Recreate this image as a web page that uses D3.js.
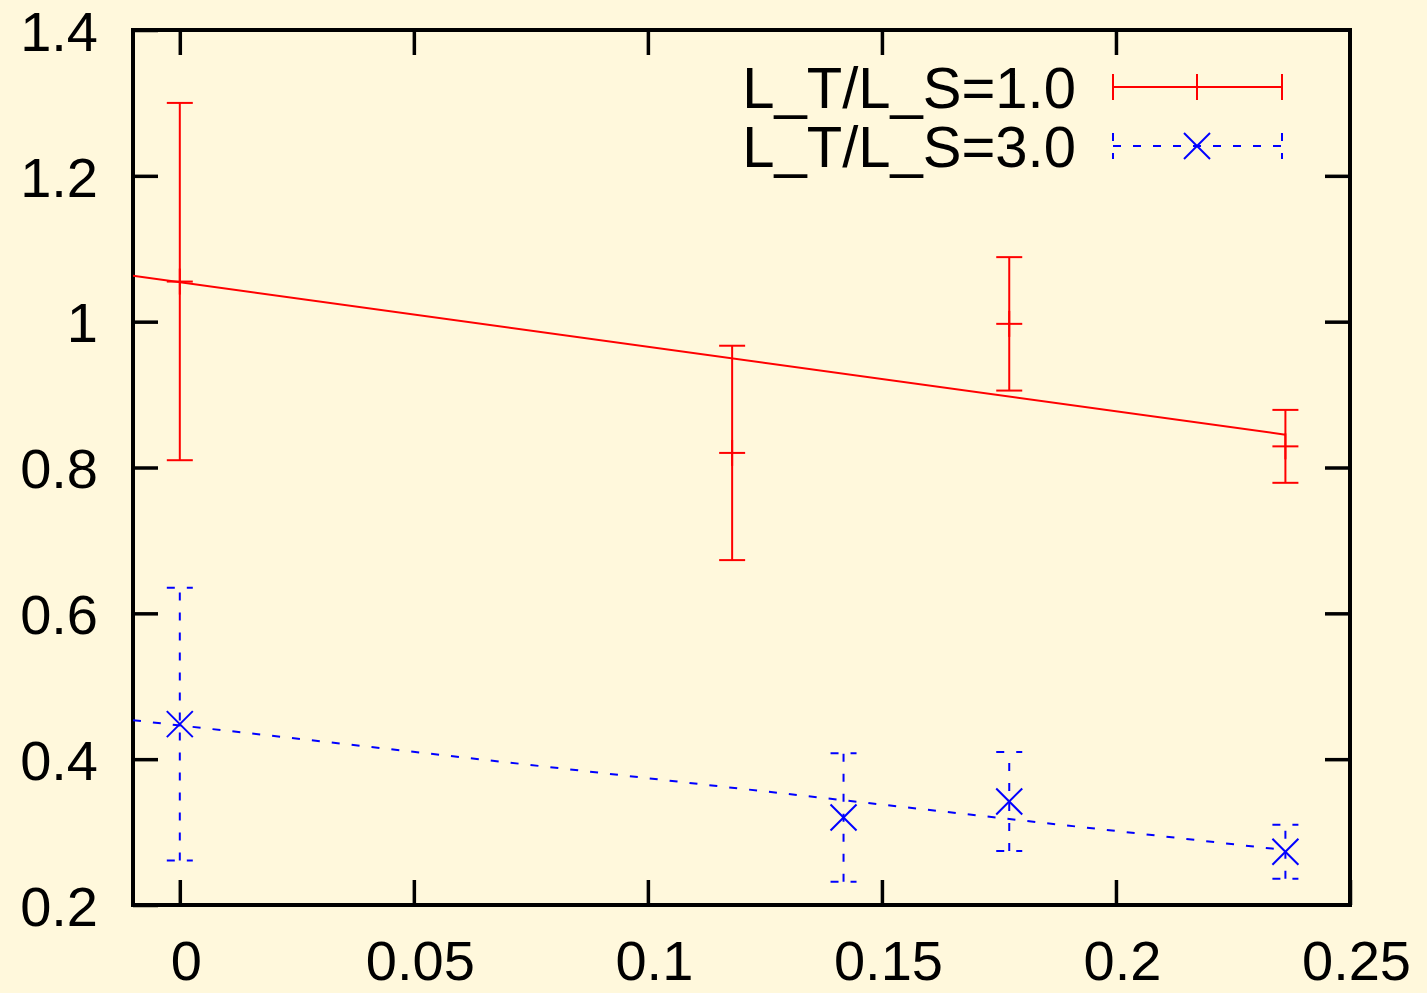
<!DOCTYPE html>
<html>
<head>
<meta charset="utf-8">
<script src="https://cdn.jsdelivr.net/npm/d3@7"></script>
<style>
  html, body { margin: 0; padding: 0; background: #fff8dc; }
  svg { display: block; }
  text { font-family: "Liberation Sans", Arial, Helvetica, sans-serif; }
</style>
</head>
<body>
<script>
// ---- data ----
const xTicks = [0, 0.05, 0.1, 0.15, 0.2, 0.25];
const xTickLabels = ["0", "0.05", "0.1", "0.15", "0.2", "0.25"];
const yTicks = [0.2, 0.4, 0.6, 0.8, 1.0, 1.2, 1.4];
const yTickLabels = ["0.2", "0.4", "0.6", "0.8", "1", "1.2", "1.4"];

const series1Name = "L_T/L_S=1.0";
const series1X = [0, 0.118, 0.1772, 0.2362];
const series1Y = [1.055, 0.820, 0.997, 0.829];
const series1Err = [0.245, 0.147, 0.0915, 0.050];
const fit1X = [-0.01, 0.2362];
const fit1Y = [1.063, 0.845];

const series2Name = "L_T/L_S=3.0";
const series2X = [0, 0.1418, 0.1772, 0.2362];
const series2Y = [0.448, 0.320, 0.342, 0.273];
const series2Err = [0.187, 0.088, 0.068, 0.037];
const fit2X = [-0.01, 0.2362];
const fit2Y = [0.4535, 0.2753];

(function () {
// ---- layout ----
const W = 1427, H = 993;
const pL = 133, pR = 1350, pT = 30, pB = 905;
const fontSize = 56, legendFontSize = 58;
const capHalf = 13, markHalf = 13;
const red = "#ff0000", blue = "#0000ff";
const dash = "8,12";

const x = d3.scaleLinear().domain([-0.01, 0.25]).range([pL, pR]);
const y = d3.scaleLinear().domain([0.2, 1.4]).range([pB, pT]);

const svg = d3.select("body").append("svg").attr("width", W).attr("height", H);
svg.append("rect").attr("width", W).attr("height", H).attr("fill", "#fff8dc");

svg.append("clipPath").attr("id", "clip").append("rect")
  .attr("x", pL).attr("y", pT).attr("width", pR - pL).attr("height", pB - pT);

// axes (ticks inward, on all four sides)
const tickLen = 25;
function styleAxis(g) {
  g.select(".domain").remove();
  g.selectAll(".tick line").attr("stroke", "#000").attr("stroke-width", 3.5);
  g.selectAll(".tick text").attr("fill", "#000").style("font-size", fontSize + "px");
}
svg.append("g").attr("transform", `translate(0,${pB})`)
  .call(d3.axisBottom(x).tickValues(xTicks).tickFormat((d, i) => xTickLabels[i]).tickSizeInner(-tickLen).tickSizeOuter(0).tickPadding(0))
  .call(styleAxis)
  .call(g => g.selectAll(".tick text").attr("y", 75).attr("dy", 0).attr("dx", 6));
svg.append("g").attr("transform", `translate(0,${pT})`)
  .call(d3.axisTop(x).tickValues(xTicks.filter(v => v < 0.25)).tickFormat("").tickSizeInner(-tickLen).tickSizeOuter(0))
  .call(styleAxis);
svg.append("g").attr("transform", `translate(${pL},0)`)
  .call(d3.axisLeft(y).tickValues(yTicks).tickFormat((d, i) => yTickLabels[i]).tickSizeInner(-tickLen).tickSizeOuter(0).tickPadding(0))
  .call(styleAxis)
  .call(g => g.selectAll(".tick text").attr("x", -35).attr("dy", "0.36em"));
svg.append("g").attr("transform", `translate(${pR},0)`)
  .call(d3.axisRight(y).tickValues(yTicks.filter(v => v > 0.2 && v < 1.4)).tickFormat("").tickSizeInner(-tickLen).tickSizeOuter(0))
  .call(styleAxis);

// frame
svg.append("rect").attr("x", pL).attr("y", pT).attr("width", pR - pL).attr("height", pB - pT)
  .attr("fill", "none").attr("stroke", "#000").attr("stroke-width", 4);

const plot = svg.append("g").attr("clip-path", "url(#clip)");
const line = d3.line().x(d => x(d[0])).y(d => y(d[1]));

// fit lines
plot.append("path").datum(fit1X.map((v, i) => [v, fit1Y[i]]))
  .attr("d", line).attr("fill", "none").attr("stroke", red).attr("stroke-width", 2);
plot.append("path").datum(fit2X.map((v, i) => [v, fit2Y[i]]))
  .attr("d", line).attr("fill", "none").attr("stroke", blue).attr("stroke-width", 2)
  .attr("stroke-dasharray", dash);

function drawMarker(parent, type, px, py, color) {
  const m = parent.append("g").attr("stroke", color).attr("stroke-width", 2);
  if (type === "plus") {
    m.append("line").attr("x1", px - markHalf).attr("x2", px + markHalf).attr("y1", py).attr("y2", py);
    m.append("line").attr("x1", px).attr("x2", px).attr("y1", py - markHalf).attr("y2", py + markHalf);
  } else {
    m.append("line").attr("x1", px - markHalf).attr("x2", px + markHalf).attr("y1", py - markHalf).attr("y2", py + markHalf);
    m.append("line").attr("x1", px - markHalf).attr("x2", px + markHalf).attr("y1", py + markHalf).attr("y2", py - markHalf);
  }
}
function errorBars(xs, ys, es, color, dashed, marker) {
  const g = plot.append("g").attr("stroke", color).attr("stroke-width", 2).attr("fill", "none");
  if (dashed) g.attr("stroke-dasharray", dashed);
  xs.forEach((xv, i) => {
    const px = x(xv), lo = y(ys[i] - es[i]), hi = y(ys[i] + es[i]), py = y(ys[i]);
    g.append("line").attr("x1", px).attr("x2", px).attr("y1", lo).attr("y2", hi);
    g.append("line").attr("x1", px - capHalf).attr("x2", px + capHalf).attr("y1", lo).attr("y2", lo);
    g.append("line").attr("x1", px - capHalf).attr("x2", px + capHalf).attr("y1", hi).attr("y2", hi);
    drawMarker(plot, marker, px, py, color);
  });
}
errorBars(series1X, series1Y, series1Err, red, null, "plus");
errorBars(series2X, series2Y, series2Err, blue, dash, "cross");

// legend
const legend = [
  { name: series1Name, color: red, dashed: null, marker: "plus", y: 87 },
  { name: series2Name, color: blue, dashed: dash, marker: "cross", y: 146 }
];
const lx1 = 1113, lx2 = 1282, lxm = 1197, textRight = 1076;
legend.forEach(l => {
  svg.append("text").attr("x", textRight).attr("y", l.y).attr("dy", "0.36em")
    .attr("text-anchor", "end").style("font-size", legendFontSize + "px").attr("fill", "#000").text(l.name);
  const g = svg.append("g").attr("stroke", l.color).attr("stroke-width", 2);
  if (l.dashed) g.attr("stroke-dasharray", l.dashed);
  g.append("line").attr("x1", lx1).attr("x2", lx2).attr("y1", l.y).attr("y2", l.y);
  g.append("line").attr("x1", lx1).attr("x2", lx1).attr("y1", l.y - capHalf).attr("y2", l.y + capHalf);
  g.append("line").attr("x1", lx2).attr("x2", lx2).attr("y1", l.y - capHalf).attr("y2", l.y + capHalf);
  drawMarker(svg, l.marker, lxm, l.y, l.color);
});
})();
</script>
</body>
</html>
